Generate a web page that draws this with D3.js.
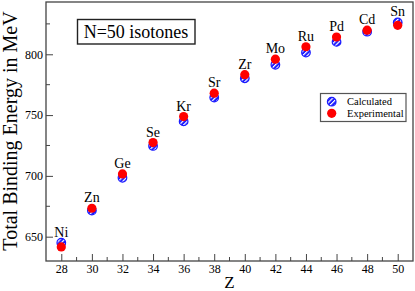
<!DOCTYPE html>
<html><head><meta charset="utf-8">
<script src="https://cdn.jsdelivr.net/npm/d3@7"></script>
<style>body{margin:0;background:#fff}svg{display:block}text{font-family:"Liberation Serif","Times New Roman",serif}</style>
</head><body><svg id="c" width="415" height="291"></svg>
<script>
const zValues = [28,30,32,34,36,38,40,42,44,46,48,50];
const elements = ["Ni","Zn","Ge","Se","Kr","Sr","Zr","Mo","Ru","Pd","Cd","Sn"];
const calculated = [645.0,671.5,698.4,724.6,744.8,764.4,780.2,791.4,801.4,810.2,818.6,826.2];
const experimental = [641.6,673.4,701.6,727.4,748.8,768.0,783.2,796.0,806.2,814.2,819.8,823.8];
const xTicks = [28,30,32,34,36,38,40,42,44,46,48,50];
const yTicks = [650,700,750,800];
const seriesNames = ["Calculated","Experimental"];

const svg = d3.select("#c");
const m = {l:46, r:2, t:2, b:30};
const W = 415, H = 291;
const x = d3.scaleLinear().domain([27,51]).range([m.l, W-m.r]);
const y = d3.scaleLinear().domain([630,843]).range([H-m.b, m.t]);

const defs = svg.append("defs");
const pat = defs.append("pattern").attr("id","hatch").attr("patternUnits","userSpaceOnUse")
  .attr("width",3.2).attr("height",3.2).attr("patternTransform","rotate(45)");
pat.append("rect").attr("width",3.2).attr("height",3.2).attr("fill","#1a1aff");
pat.append("rect").attr("x",0).attr("width",1.2).attr("height",3.2).attr("fill","#fff");

// frame
svg.append("rect").attr("x",m.l).attr("y",m.t).attr("width",W-m.r-m.l).attr("height",H-m.b-m.t)
  .attr("fill","none").attr("stroke","#444").attr("stroke-width",1.3);

// x axis
const xAxis = d3.axisBottom(x).tickValues(xTicks).tickSize(-7).tickPadding(3).tickFormat(d3.format("d"));
const gx = svg.append("g").attr("transform",`translate(0,${H-m.b})`).call(xAxis);
gx.select(".domain").remove();
gx.selectAll("line").attr("stroke","#444").attr("stroke-width",1);
gx.selectAll("text").attr("font-size",12).attr("fill","#000").attr("font-family","Liberation Serif, serif");
const xMinor = d3.range(29,51,2);
svg.append("g").selectAll("line").data(xMinor).join("line")
  .attr("x1",d=>x(d)).attr("x2",d=>x(d)).attr("y1",H-m.b).attr("y2",H-m.b-4)
  .attr("stroke","#444").attr("stroke-width",1);

// y axis
const yAxis = d3.axisLeft(y).tickValues(yTicks).tickSize(-7).tickPadding(3).tickFormat(d3.format("d"));
const gy = svg.append("g").attr("transform",`translate(${m.l},0)`).call(yAxis);
gy.select(".domain").remove();
gy.selectAll("line").attr("stroke","#444").attr("stroke-width",1);
gy.selectAll("text").attr("font-size",12).attr("fill","#000").attr("font-family","Liberation Serif, serif");
const yMinor = [675,725,775,825];
svg.append("g").selectAll("line").data(yMinor).join("line")
  .attr("x1",m.l).attr("x2",m.l+4).attr("y1",d=>y(d)).attr("y2",d=>y(d))
  .attr("stroke","#444").attr("stroke-width",1);

// axis titles
svg.append("text").attr("x",x(39)).attr("y",288).attr("text-anchor","middle").attr("font-size",17).text("Z");
svg.append("text").attr("transform",`translate(17,131) rotate(-90)`).attr("text-anchor","middle")
  .attr("font-size",20).text("Total Binding Energy in MeV");

const r = 4.3;
const pts = zValues.map((z,i)=>({z, el:elements[i], c:calculated[i], e:experimental[i]}));
// calculated
svg.append("g").selectAll("circle").data(pts).join("circle")
  .attr("cx",d=>x(d.z)).attr("cy",d=>y(d.c)).attr("r",r)
  .attr("fill","url(#hatch)").attr("stroke","#1a1aff").attr("stroke-width",1.2);
// experimental
svg.append("g").selectAll("circle").data(pts).join("circle")
  .attr("cx",d=>x(d.z)).attr("cy",d=>y(d.e)).attr("r",r+0.3)
  .attr("fill","#ff0000");
// element labels
svg.append("g").selectAll("text").data(pts).join("text")
  .attr("x",d=>x(d.z)).attr("y",d=>Math.min(y(d.c),y(d.e))-6)
  .attr("text-anchor","middle").attr("font-size",14).text(d=>d.el);

// title box
svg.append("rect").attr("x",77.5).attr("y",19.5).attr("width",117.5).attr("height",24.5)
  .attr("fill","#fff").attr("stroke","#222").attr("stroke-width",1.4);
svg.append("text").attr("x",136).attr("y",37.5).attr("text-anchor","middle").attr("font-size",18).text("N=50 isotones");

// legend
const lg = svg.append("g");
lg.append("rect").attr("x",320.5).attr("y",93.5).attr("width",85.5).attr("height",28)
  .attr("fill","#fff").attr("stroke","#555").attr("stroke-width",1.2);
lg.append("circle").attr("cx",331.7).attr("cy",101.7).attr("r",r)
  .attr("fill","url(#hatch)").attr("stroke","#1a1aff").attr("stroke-width",1.2);
lg.append("circle").attr("cx",331.7).attr("cy",113.3).attr("r",r+0.3).attr("fill","#ff0000");
lg.selectAll("text").data(seriesNames).join("text")
  .attr("x",347).attr("y",(d,i)=>105.2+i*11.6).attr("font-size",10.5).text(d=>d);
</script></body></html>
